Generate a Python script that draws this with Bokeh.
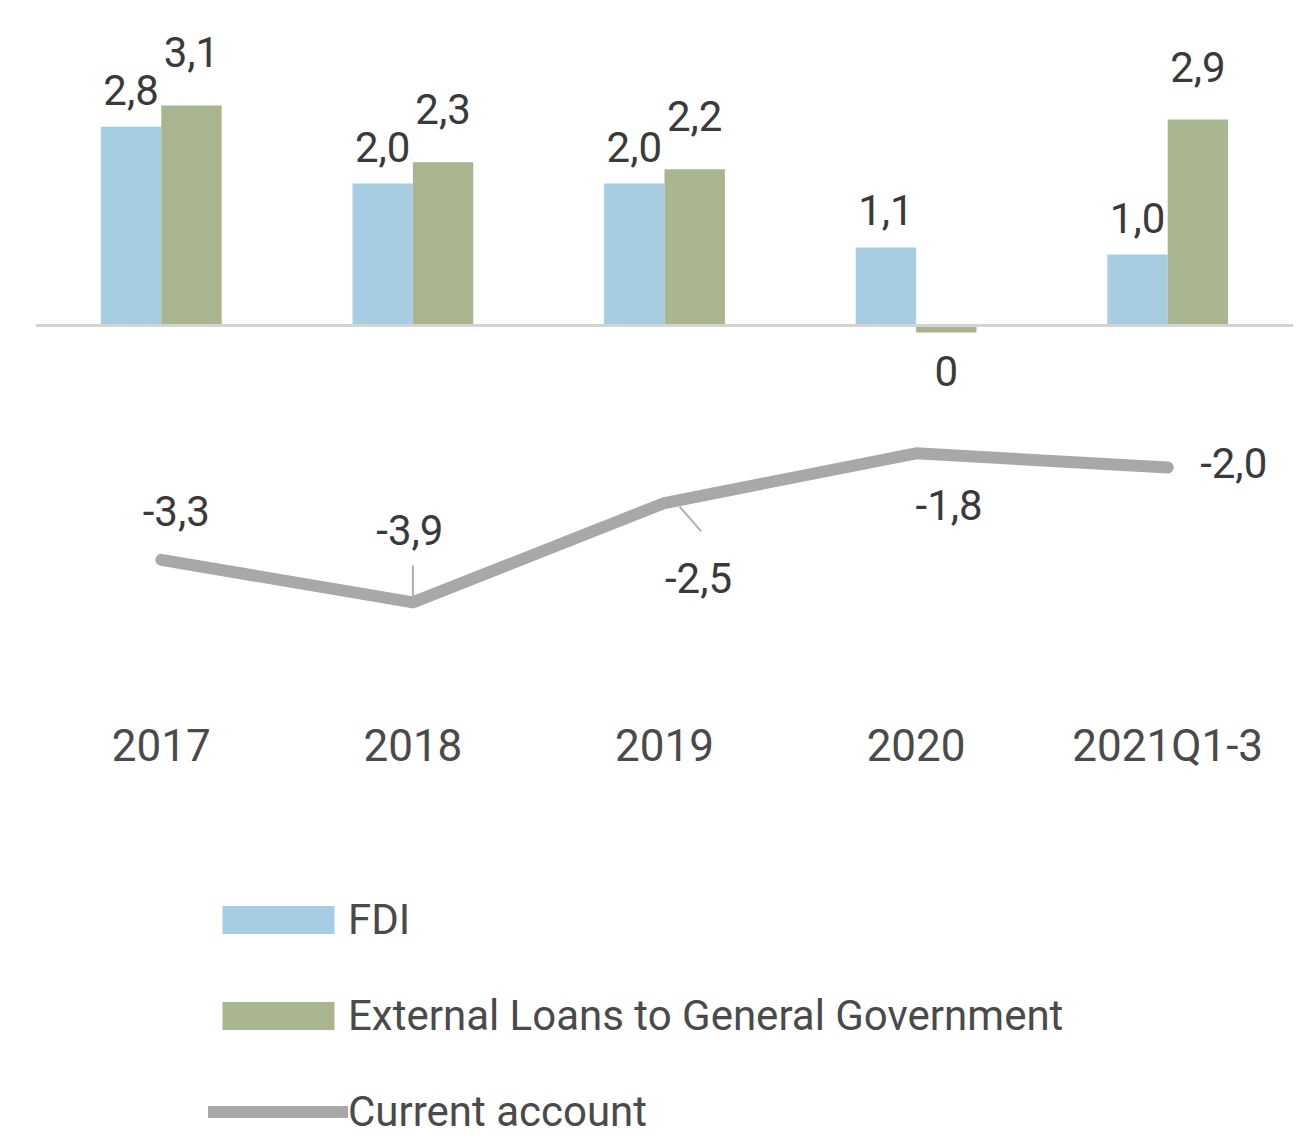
from bokeh.plotting import figure
from bokeh.models import FactorRange, Range1d, ColumnDataSource, Span, Legend, LegendItem, CustomJSTransform
from bokeh.transform import dodge
from bokeh.core.properties import value
from bokeh.embed import file_html
from bokeh.resources import INLINE

# ---- data ----
categories = ["2017", "2018", "2019", "2020", "2021Q1-3"]
fdi = [2.8, 2.0, 2.0, 1.1, 1.0]
loans = [3.1, 2.3, 2.2, -0.1, 2.9]
current_account = [-3.3, -3.9, -2.5, -1.8, -2.0]
fdi_labels = ["2,8", "2,0", "2,0", "1,1", "1,0"]
loans_labels = ["3,1", "2,3", "2,2", "0", "2,9"]
ca_labels = ["-3,3", "-3,9", "-2,5", "-1,8", "-2,0"]

# ---- label placement (pixel offsets, styling only) ----
ca_label_dx = [15, -3, 34, 33, 66]
ca_label_dy = [-49, -72, 75, 52, -5]

FONT = "Roboto"
BLUE = "#a6cde1"
GREEN = "#a9b58f"
GREY_LINE = "#a8a8a8"
TEXT = "#3a3a3a"
AXIS_TEXT = "#4a4a4a"

PX_PER_UNIT = 71.0
FRAME_H = 1128

src = ColumnDataSource(dict(
    cat=categories, fdi=fdi, loans=loans, ca=current_account,
    fdi_lbl=fdi_labels, loans_lbl=loans_labels, ca_lbl=ca_labels,
    fdi_off=[-37 if v >= 0 else 38 for v in fdi],
    loans_off=[-53 if v >= 0 else 38 for v in loans],
    ca_dx=ca_label_dx, ca_dy=ca_label_dy,
))

# frame covers the whole chart incl. legend area
p = figure(
    x_range=FactorRange(*categories, range_padding=0),
    y_range=Range1d(4.465 - FRAME_H / PX_PER_UNIT, 4.465),
    frame_width=1258, frame_height=FRAME_H,
    min_border_left=35, min_border_right=0, min_border_top=8, min_border_bottom=0,
    output_backend="svg", toolbar_location=None,
)
p.background_fill_color = "white"
p.border_fill_color = "white"
p.outline_line_color = None
p.xgrid.grid_line_color = None
p.ygrid.grid_line_color = None
p.yaxis.visible = False

ax = p.xaxis[0]
ax.fixed_location = -5.282
ax.axis_line_color = None
ax.major_tick_line_color = None
ax.minor_tick_line_color = None
ax.major_label_text_font = FONT
ax.major_label_text_font_size = "44px"
ax.major_label_text_color = AXIS_TEXT
ax.major_label_standoff = 13

p.add_layout(Span(location=0, dimension="width", line_color="#d3d3d3", line_width=3))

r_fdi = p.vbar(x=dodge("cat", -0.12, range=p.x_range), top="fdi", width=0.24,
               source=src, fill_color=BLUE, line_color=None)
r_loans = p.vbar(x=dodge("cat", 0.12, range=p.x_range), top="loans", width=0.24,
                 source=src, fill_color=GREEN, line_color=None)
r_ca = p.line(x="cat", y="ca", source=src, line_color=GREY_LINE, line_width=12,
              line_cap="round", line_join="round")

# leader lines (tied to the current-account points)
leader_src1 = ColumnDataSource(dict(cat=[categories[1]], y=[current_account[1]]))
p.segment(x0="cat", x1="cat",
          y0=dict(field="y", transform=CustomJSTransform(v_func="return xs.map(v => v + 0.04)")),
          y1=dict(field="y", transform=CustomJSTransform(v_func="return xs.map(v => v + 0.52)")),
          source=leader_src1, line_color="#b0b0b0", line_width=2)
leader_src2 = ColumnDataSource(dict(cat=[categories[2]], y=[current_account[2]]))
p.segment(x0=dodge("cat", 0.06, range=p.x_range), x1=dodge("cat", 0.146, range=p.x_range),
          y0=dict(field="y", transform=CustomJSTransform(v_func="return xs.map(v => v - 0.05)")),
          y1=dict(field="y", transform=CustomJSTransform(v_func="return xs.map(v => v - 0.40)")),
          source=leader_src2, line_color="#b0b0b0", line_width=2)

common = dict(source=src, text_font=value(FONT), text_font_size="42px", text_color=TEXT,
              text_align="center", text_baseline="middle")
p.text(x=dodge("cat", -0.12, range=p.x_range), y="fdi", text="fdi_lbl", y_offset="fdi_off", **common)
p.text(x=dodge("cat", 0.12, range=p.x_range), y="loans", text="loans_lbl", y_offset="loans_off", **common)
p.text(x="cat", y="ca", text="ca_lbl", x_offset="ca_dx", y_offset="ca_dy", **common)

legend = Legend(
    items=[LegendItem(label="FDI", renderers=[r_fdi]),
           LegendItem(label="External Loans to General Government", renderers=[r_loans]),
           LegendItem(label="Current account", renderers=[r_ca])],
    location=(173, 0), orientation="vertical",
    glyph_width=140, glyph_height=35, label_height=49, label_standoff=0, spacing=47,
    label_text_font=FONT, label_text_font_size="42px", label_text_color=AXIS_TEXT,
    border_line_color=None, background_fill_alpha=0, padding=0, margin=0,
)
p.add_layout(legend, "center")

open("out.html", "w").write(file_html(p, INLINE))
